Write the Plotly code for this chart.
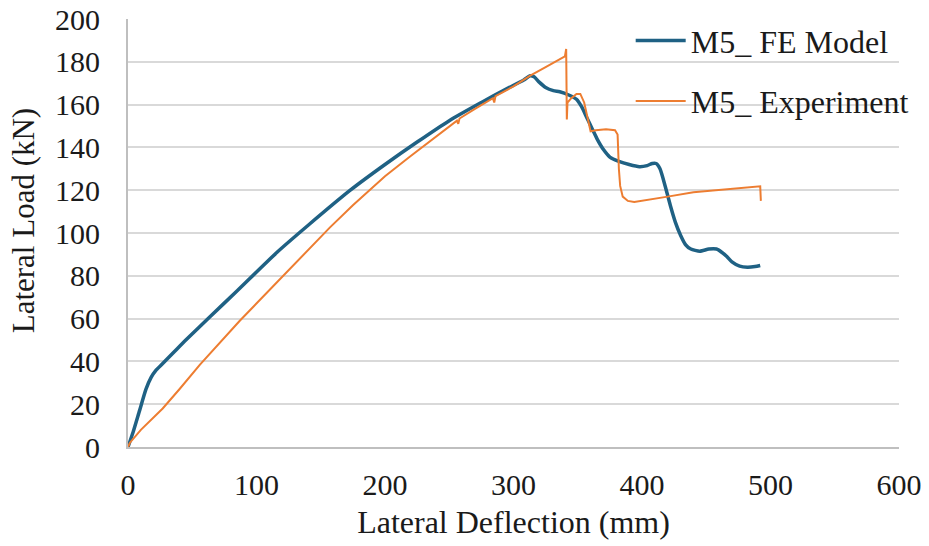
import plotly.graph_objects as go

# Finite-element model response (lateral deflection in mm, lateral load in kN)
fe_defl = [0, 4, 9, 14, 18, 22, 27, 36, 45, 64, 85, 116, 140, 173, 200, 225, 250,
           275, 295, 308, 313, 316, 320, 325, 331, 336, 343, 349, 353, 357, 361,
           365, 370, 375, 382, 390, 398, 404, 408, 411, 414, 418, 422, 426, 430,
           434, 438, 445, 452, 458, 462, 466, 470, 476, 482, 488, 492]
fe_load = [0, 7, 17, 27, 32.5, 36, 39, 44.5, 50, 61, 73, 91, 103.5, 120, 132, 142.5, 152.5,
           161, 167.5, 171.5, 173.5, 173, 170.5, 168, 166.5, 166, 164.5, 162.5, 159, 154, 149,
           144, 139, 135.5, 133.5, 132, 131, 131.5, 132.5, 132.5, 130, 122, 113, 105, 99,
           94.5, 92.5, 91.5, 92.5, 92.5, 91, 89, 86.5, 84.5, 84, 84.3, 84.8]

# Test measurements
exp_defl = [0, 1.5, 10, 20, 27, 40, 56, 87, 103, 134, 157, 175, 188, 200, 219, 235, 248,
            256, 257, 258, 270, 284, 285, 286, 300, 313, 325, 340, 341, 341.5, 342,
            345, 349, 352, 355, 358, 360, 364, 372, 379, 381, 382, 383, 385, 389,
            394, 400, 420, 440, 460, 480, 492, 492.5]
exp_load = [0, 2, 8, 14, 18, 27, 38.5, 59, 69, 88, 102.5, 113, 120, 126.5, 135.5, 143, 149,
            152.5, 151, 153.5, 158, 163, 161, 164, 168.5, 173.5, 177.5, 182.5, 186, 153, 161,
            163, 165, 165, 161, 152, 147.5, 148, 148.5, 148, 146, 130, 122, 117, 115,
            114.5, 115, 117, 119, 120, 121, 121.8, 115]

x_ticks = [0, 100, 200, 300, 400, 500, 600]
y_ticks = [0, 20, 40, 60, 80, 100, 120, 140, 160, 180, 200]

FONT = "Liberation Serif, Times New Roman, serif"
INK = "#1a1a1a"

fig = go.Figure()
fig.add_trace(go.Scatter(
    x=fe_defl, y=fe_load, mode="lines", name="M5_ FE Model",
    line=dict(color="#1F6184", width=3.5, shape="spline", smoothing=0.6),
    legendgroup="fe",
))
fig.add_trace(go.Scatter(
    x=exp_defl, y=exp_load, mode="lines", name="M5_ Experiment",
    line=dict(color="#ED7D31", width=2),
    legendgroup="exp",
))

fig.update_layout(
    width=929, height=546,
    margin=dict(l=128, r=30, t=19, b=99, autoexpand=False),
    paper_bgcolor="white", plot_bgcolor="white",
    font=dict(family=FONT, size=30, color=INK),
    showlegend=True,
    legend=dict(
        x=0.652, y=0.976, xanchor="left", yanchor="top", yref="container",
        bgcolor="rgba(0,0,0,0)", font=dict(family=FONT, size=32, color=INK),
        tracegroupgap=16, traceorder="grouped", itemwidth=50,
    ),
    xaxis=dict(
        range=[0, 600], tickvals=x_ticks, ticktext=[str(v) for v in x_ticks],
        showgrid=False, zeroline=False, automargin=False,
        showline=True, linecolor="#BFBFBF", linewidth=2,
        ticks="", ticklabelstandoff=10,
        tickfont=dict(family=FONT, size=30, color=INK),
        title=dict(text="Lateral Deflection (mm)", standoff=11,
                   font=dict(family=FONT, size=32, color=INK)),
    ),
    yaxis=dict(
        range=[0, 200], tickvals=y_ticks, ticktext=[str(v) for v in y_ticks],
        showgrid=True, gridcolor="#D9D9D9", gridwidth=1.5,
        zeroline=False, showline=True, linecolor="#BFBFBF", linewidth=2,
        automargin=False,
        ticks="", ticklabelstandoff=20,
        tickfont=dict(family=FONT, size=30, color=INK),
    ),
    annotations=[dict(
        text="Lateral Load (kN)", textangle=-90, showarrow=False,
        xref="paper", yref="paper", x=-0.136, y=0.530,
        xanchor="center", yanchor="middle",
        font=dict(family=FONT, size=31, color=INK),
    )],
)

fig.write_html("out.html")
